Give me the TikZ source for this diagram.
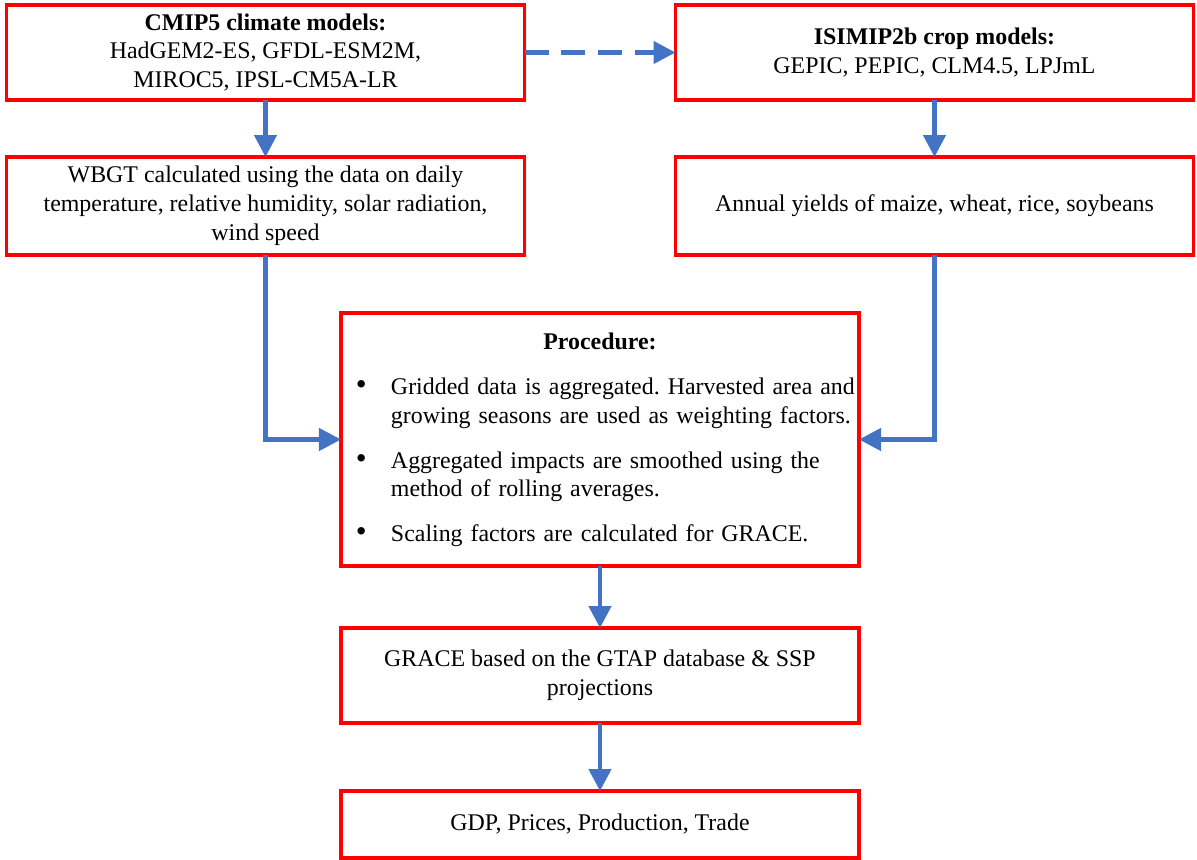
\documentclass[tikz,border=0pt]{standalone}
\usepackage{fontspec}
\setmainfont{Liberation Serif}
\usepackage{enumitem}
\usetikzlibrary{positioning,calc,arrows.meta}
\usetikzlibrary{shadows}

\definecolor{boxred}{RGB}{255,0,0}
\definecolor{flowblue}{RGB}{68,114,196}

\begin{document}
\frenchspacing
\begin{tikzpicture}[node distance=1.45cm,
      box/.style={draw=boxred, line width=2.6pt, fill=white, minimum width=12.95cm,
        outer sep=0pt, align=center, font=\fontsize{17}{20.5}\selectfont,
        drop shadow={opacity=0.12, shadow xshift=1.5pt, shadow yshift=-1.5pt}},
      flow/.style={color=flowblue, line width=3.2pt, -{Triangle[length=0.55cm,width=0.55cm]}}]
    \useasboundingbox (-6.6375,1.3125) rectangle (23.2875,-20.1875);
    \node (cmip) [box, minimum height=2.375cm] at (0,0)
      {\textbf{CMIP5 climate models:}\\HadGEM2-ES, GFDL-ESM2M,\\MIROC5, IPSL-CM5A-LR};
    \node (isimip) [box, minimum height=2.375cm, right=3.775cm of cmip]
      {\textbf{ISIMIP2b crop models:}\\GEPIC, PEPIC, CLM4.5, LPJmL};
    \node (wbgt) [box, minimum height=2.45cm, below=1.425cm of cmip]
      {WBGT calculated using the data on daily\\temperature, relative humidity, solar radiation,\\wind speed};
    \node (yields) [box, minimum height=2.45cm, below=1.425cm of isimip]
      {Annual yields of maize, wheat, rice, soybeans};
    \coordinate (mid) at ($(wbgt.south)!0.5!(yields.south)$);
    \node (proc) [box, minimum height=6.325cm, text width=12.45cm, inner xsep=0.25cm,
        align=left, below=of mid]
      {{\centering\textbf{Procedure:}\par}
       \begin{itemize}[leftmargin=1.0cm, rightmargin=-0.5cm, labelwidth=1.0cm, labelsep=0pt,
           align=left, label={\hspace{0.12cm}\fontsize{22}{22}\selectfont\textbullet},
           topsep=12pt, partopsep=0pt, itemsep=11pt, parsep=0pt]
         \item Gridded data is aggregated. Harvested area and\newline growing seasons are used as weighting factors.
         \item Aggregated impacts are smoothed using the\newline method of rolling averages.
         \item Scaling factors are calculated for GRACE.
       \end{itemize}};
    \node (grace) [box, minimum height=2.375cm, below=1.55cm of proc]
      {GRACE based on the GTAP database \& SSP\\projections};
    \node (gdp) [box, minimum height=1.675cm, below=1.7cm of grace]
      {GDP, Prices, Production, Trade};
    \path[flow] (cmip) edge (wbgt)
                (isimip) edge (yields)
                (proc) edge (grace)
                (grace) edge (gdp);
    \draw[flow, dash pattern=on 0.6cm off 0.32cm] (cmip) -- (isimip);
    \draw[flow] (wbgt.south) |- (proc.west);
    \draw[flow] (yields.south) |- (proc.east);
  \end{tikzpicture}
\end{document}
